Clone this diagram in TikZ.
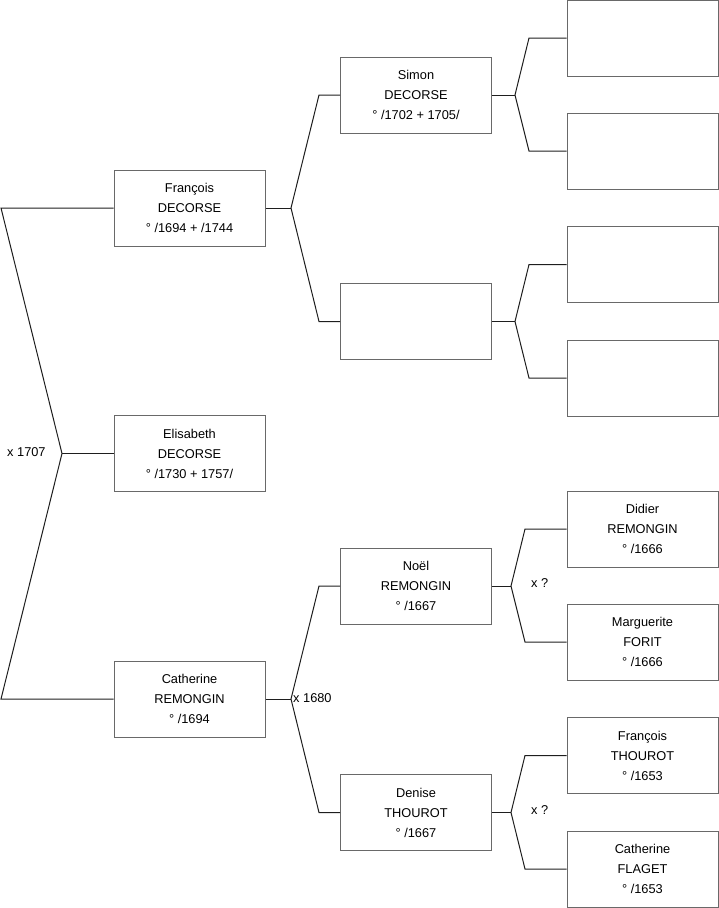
\documentclass[tikz,border=0pt]{standalone}
\usepackage{fontspec}
\setmainfont{Liberation Sans}
\definecolor{boxline}{RGB}{105,105,105}
\definecolor{linkline}{RGB}{30,30,30}
\begin{document}
\begin{tikzpicture}[x=1pt,y=-1pt,
  person/.style={draw=boxline,line width=1pt,rectangle,minimum width=151pt,minimum height=76pt,inner sep=0pt,align=center,font=\fontsize{12.8}{20}\selectfont},
  link/.style={draw=linkline,line width=1pt},
  lbl/.style={font=\fontsize{12.8}{14}\selectfont,inner sep=0pt}]
\useasboundingbox (0,0) rectangle (719,908);
% left column
\node[person] (F) at (189.5,208) {François\\DECORSE\\° /1694 + /1744};
\node[person] (E) at (189.5,453.5) {Elisabeth\\DECORSE\\° /1730 + 1757/};
\node[person] (C) at (189.5,699) {Catherine\\REMONGIN\\° /1694};
% middle column
\node[person] (S) at (416,95) {Simon\\DECORSE\\° /1702 + 1705/};
\node[person] (X) at (416,321.5) {};
\node[person] (N) at (416,586) {Noël\\REMONGIN\\° /1667};
\node[person] (D) at (416,812.5) {Denise\\THOUROT\\° /1667};
% right column
\node[person] (R1) at (642.5,38) {};
\node[person] (R2) at (642.5,151) {};
\node[person] (R3) at (642.5,264.5) {};
\node[person] (R4) at (642.5,378) {};
\node[person] (R5) at (642.5,529) {Didier\\REMONGIN\\° /1666};
\node[person] (R6) at (642.5,642) {Marguerite\\FORIT\\° /1666};
\node[person] (R7) at (642.5,755.5) {François\\THOUROT\\° /1653};
\node[person] (R8) at (642.5,869) {Catherine\\FLAGET\\° /1653};
% fork points
\coordinate (L1) at (1,208);
\coordinate (L2) at (62,453.5);
\coordinate (L3) at (1,699);
\coordinate (fF) at (291,208);
\coordinate (fFa) at (319,95);
\coordinate (fFb) at (319,321.5);
\coordinate (fC) at (291,699);
\coordinate (fCa) at (319,586);
\coordinate (fCb) at (319,812.5);
\coordinate (fS) at (515,95);
\coordinate (fSa) at (529,38);
\coordinate (fSb) at (529,151);
\coordinate (fX) at (515,321.5);
\coordinate (fXa) at (529,264.5);
\coordinate (fXb) at (529,378);
\coordinate (fN) at (511,586);
\coordinate (fNa) at (525,529);
\coordinate (fNb) at (525,642);
\coordinate (fD) at (511,812.5);
\coordinate (fDa) at (525,755.5);
\coordinate (fDb) at (525,869);
% connectors
\draw[link] (F.west) -- (L1) -- (L2) -- (L3) -- (C.west);
\draw[link] (L2) -- (E.west);
\draw[link] (F.east) -- (fF);
\draw[link] (S.west) -- (fFa) -- (fF) -- (fFb) -- (X.west);
\draw[link] (C.east) -- (fC);
\draw[link] (N.west) -- (fCa) -- (fC) -- (fCb) -- (D.west);
\draw[link] (S.east) -- (fS);
\draw[link] (R1.west) -- (fSa) -- (fS) -- (fSb) -- (R2.west);
\draw[link] (X.east) -- (fX);
\draw[link] (R3.west) -- (fXa) -- (fX) -- (fXb) -- (R4.west);
\draw[link] (N.east) -- (fN);
\draw[link] (R5.west) -- (fNa) -- (fN) -- (fNb) -- (R6.west);
\draw[link] (D.east) -- (fD);
\draw[link] (R7.west) -- (fDa) -- (fD) -- (fDb) -- (R8.west);
% labels
\node[lbl,anchor=west] (m1) at (7,452) {x 1707};
\node[lbl,anchor=west] (m2) at (293,698) {x 1680};
\node[lbl,anchor=west] (m3) at (531,583) {x ?};
\node[lbl,anchor=west] (m4) at (531,810) {x ?};
\end{tikzpicture}
\end{document}
